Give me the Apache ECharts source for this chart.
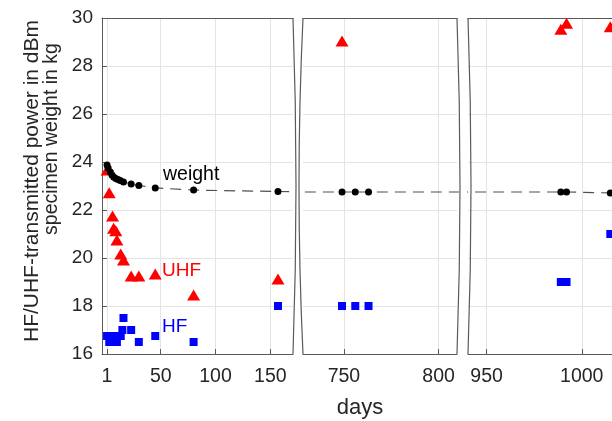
<!DOCTYPE html>
<html><head><meta charset="utf-8">
<script src="https://cdn.jsdelivr.net/npm/echarts@6/dist/echarts.min.js"></script>
<style>html,body{margin:0;padding:0;background:#fff}#c{width:612px;height:421px}</style>
</head><body><div id="c"></div>
<script>
// ---- data ----
const weightDays = [1, 2, 4, 5.5, 7, 9, 11, 13, 16, 23, 30, 45, 80, 157, 749, 756, 763, 989, 992, 1015];
const weightKg   = [23.87, 23.75, 23.58, 23.46, 23.38, 23.31, 23.27, 23.23, 23.17, 23.08, 23.02, 22.92, 22.83, 22.77, 22.75, 22.75, 22.75, 22.75, 22.75, 22.71];

const uhfDays = [1, 3, 6, 7, 9, 10, 13.5, 16, 23, 30, 45, 80, 157, 749, 989, 992, 1015];
const uhfDbm  = [23.67, 22.72, 21.75, 21.24, 21.14, 20.75, 20.17, 19.92, 19.25, 19.25, 19.33, 18.46, 19.13, 29.04, 29.53, 29.78, 29.64];

const hfDays = [1, 3, 6, 7, 9, 10, 13.5, 15, 16, 23, 30, 45, 80, 157, 749, 756, 763, 989, 992, 1015];
const hfDbm  = [16.75, 16.5, 16.5, 16.75, 16.75, 16.5, 16.75, 17.0, 17.5, 17.0, 16.5, 16.75, 16.5, 18.0, 18.0, 18.0, 18.0, 19.0, 19.0, 21.0];

const panelTicks = [[1, 50, 100, 150], [750, 800], [950, 1000]];
const panelRanges = [[-3.6, 170.7], [728.4, 809.7], [940.2, 1015.9]];
const yMin = 16, yMax = 30, yStep = 2;

// ---- layout ----
const panelBoxes = [
  {left: 102, width: 191},
  {left: 303, width: 154},
  {left: 468, width: 144}
];
const TOP = 18, HEIGHT = 336;
const AXC = '#5a5a5a', TXT = '#262626', GRIDC = '#e4e4e4';
const FONT = 'Liberation Sans, Arial, sans-serif';

const pairs = (xs, ys) => xs.map((x, i) => [x, ys[i]]);

const grid = [], xAxis = [], yAxis = [], series = [];
panelBoxes.forEach((b, i) => {
  grid.push({left: b.left, top: TOP, width: b.width, height: HEIGHT, containLabel: false});
  xAxis.push({
    type: 'value', gridIndex: i, min: panelRanges[i][0], max: panelRanges[i][1], position: 'bottom',
    axisLine: {show: true, onZero: false, lineStyle: {color: AXC, width: 1}},
    axisTick: {show: true, inside: true, length: 5, customValues: panelTicks[i], lineStyle: {color: AXC}},
    axisLabel: {show: true, customValues: panelTicks[i], margin: 13, color: TXT, fontSize: 19.5, fontFamily: FONT,
                formatter: v => String(v)},
    splitLine: {show: true, lineStyle: {color: GRIDC, width: 1}}
  });
  yAxis.push({
    type: 'value', gridIndex: i, min: yMin, max: yMax, interval: yStep,
    axisLine: {show: i === 0, onZero: false, lineStyle: {color: AXC, width: 1}},
    axisTick: {show: i === 0, inside: true, length: 5, lineStyle: {color: AXC}},
    axisLabel: {show: i === 0, margin: 9, color: TXT, fontSize: 19, fontFamily: FONT},
    splitLine: {show: true, lineStyle: {color: GRIDC, width: 1}}
  });
});
panelBoxes.forEach((b, i) => {
  xAxis.push({
    type: 'value', gridIndex: i, min: panelRanges[i][0], max: panelRanges[i][1], position: 'top',
    axisLine: {show: true, onZero: false, lineStyle: {color: AXC, width: 1}},
    axisTick: {show: false}, axisLabel: {show: false}, splitLine: {show: false}
  });
});
panelBoxes.forEach((b, i) => {
  series.push({
    type: 'scatter', xAxisIndex: i, yAxisIndex: i, clip: true, z: 3,
    symbol: 'triangle', symbolSize: [13, 11], itemStyle: {color: '#ff0000', opacity: 1},
    data: pairs(uhfDays, uhfDbm), silent: true
  });
  series.push({
    type: 'scatter', xAxisIndex: i, yAxisIndex: i, clip: true, z: 3,
    symbol: 'rect', symbolSize: 8, itemStyle: {color: '#0000ff', opacity: 1},
    data: pairs(hfDays, hfDbm), silent: true
  });
  series.push({
    type: 'line', xAxisIndex: i, yAxisIndex: i, clip: true, z: 4,
    symbol: 'circle', symbolSize: 7, showAllSymbol: true,
    itemStyle: {color: '#000000', opacity: 1},
    lineStyle: {color: '#505050', width: 1.2, type: [11, 7]},
    data: pairs(weightDays, weightKg), silent: true, animation: false
  });
});

const curve = (x, cx) => ({
  type: 'bezierCurve', silent: true, z: 100,
  shape: {x1: x, y1: TOP, x2: x, y2: TOP + HEIGHT, cpx1: cx, cpy1: TOP + HEIGHT / 2},
  style: {stroke: AXC, lineWidth: 1.2, fill: null}
});

const graphic = [
  curve(293, 299), curve(303, 295),
  curve(457, 463), curve(468, 474),
  {type: 'text', left: 163, top: 165, z: 100, style: {text: 'weight', fill: '#000', fontSize: 19.5, fontFamily: FONT}},
  {type: 'text', left: 162, top: 261, z: 100, style: {text: 'UHF', fill: '#ff0000', fontSize: 19, fontFamily: FONT}},
  {type: 'text', left: 162, top: 317, z: 100, style: {text: 'HF', fill: '#0000ff', fontSize: 19, fontFamily: FONT}},
  {type: 'text', x: 360, y: 408, z: 100, style: {text: 'days', fill: TXT, fontSize: 22, fontFamily: FONT, align: 'center', verticalAlign: 'middle'}},
  {type: 'text', x: 32, y: 181, rotation: Math.PI / 2, z: 100, style: {text: 'HF/UHF-transmitted power in dBm', fill: TXT, fontSize: 21, fontFamily: FONT, align: 'center', verticalAlign: 'middle'}},
  {type: 'text', x: 52, y: 139, rotation: Math.PI / 2, z: 100, style: {text: 'specimen weight in kg', fill: TXT, fontSize: 19.5, fontFamily: FONT, align: 'center', verticalAlign: 'middle'}}
];

const chart = echarts.init(document.getElementById('c'), null, {renderer: 'canvas'});
chart.setOption({
  animation: false,
  backgroundColor: '#ffffff',
  grid, xAxis, yAxis, series, graphic
});
</script>
</body></html>
